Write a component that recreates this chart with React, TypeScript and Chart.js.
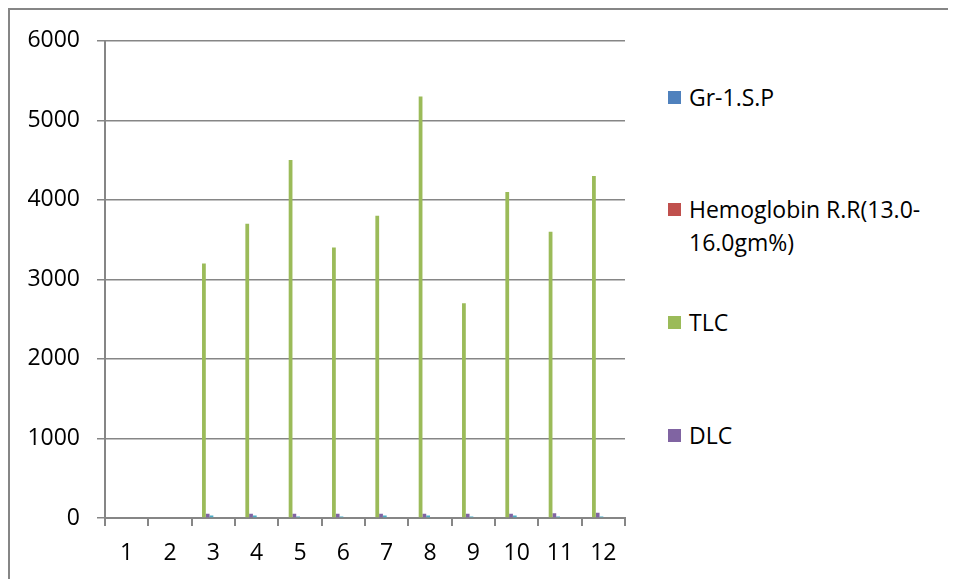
import React, { useEffect, useRef } from "react";
import { Chart, registerables } from "chart.js";

Chart.register(...registerables);

// ---- data ----
const categories = ["1", "2", "3", "4", "5", "6", "7", "8", "9", "10", "11", "12"];
const seriesNames = [
  "Gr-1.S.P",
  "Hemoglobin R.R(13.0-16.0gm%)",
  "TLC",
  "DLC",
  "Series 5",
  "Series 6",
  "Series 7",
  "Series 8",
  "Series 9",
  "Series 10",
];
const grSP = [0, 0, 0, 0, 0, 0, 0, 0, 0, 0, 0, 0];
const hemoglobin = [0, 0, 0, 0, 0, 0, 0, 0, 0, 0, 0, 0];
const tlc = [0, 0, 3200, 3700, 4500, 3400, 3800, 5300, 2700, 4100, 3600, 4300];
const dlc = [0, 0, 52, 52, 55, 52, 52, 52, 55, 52, 60, 66];
const series5 = [0, 0, 30, 30, 18, 18, 30, 30, 18, 30, 18, 18];
const series6 = [0, 0, 0, 0, 0, 0, 0, 0, 0, 0, 0, 0];
const series7 = [0, 0, 0, 0, 0, 0, 0, 0, 0, 0, 0, 0];
const series8 = [0, 0, 0, 0, 0, 0, 0, 0, 0, 0, 0, 0];
const series9 = [0, 0, 0, 0, 0, 0, 0, 0, 0, 0, 0, 0];
const series10 = [0, 0, 0, 0, 0, 0, 0, 0, 0, 0, 0, 0];
const yMin = 0;
const yMax = 6000;
const yStep = 1000;
const legendCount = 4;

// ---- styles ----
const seriesColors = [
  "#4F81BD",
  "#C0504D",
  "#9BBB59",
  "#8064A2",
  "#4BACC6",
  "#F79646",
  "#2C4D75",
  "#772C2A",
  "#5F7530",
  "#4D3B62",
];
const FONT = "'Open Sans', 'Noto Sans', sans-serif";
const AXIS_GRAY = "#868686";

export default function App() {
  const canvasRef = useRef<HTMLCanvasElement | null>(null);

  useEffect(() => {
    const values = [grSP, hemoglobin, tlc, dlc, series5, series6, series7, series8, series9, series10];
    const chart = new Chart(canvasRef.current as HTMLCanvasElement, {
      type: "bar",
      data: {
        labels: categories,
        datasets: values.map((v, i) => ({
          label: seriesNames[i],
          data: v,
          backgroundColor: seriesColors[i],
          borderWidth: 0,
          categoryPercentage: 10 / 11.5,
          barPercentage: 1,
        })),
      },
      options: {
        animation: false,
        responsive: false,
        devicePixelRatio: 1,
        layout: { padding: { top: 30, right: 25, left: 0, bottom: 0 } },
        plugins: { legend: { display: false }, tooltip: { enabled: false } },
        scales: {
          x: {
            grid: {
              display: true,
              drawOnChartArea: false,
              drawTicks: true,
              tickLength: 8,
              offset: true,
              color: AXIS_GRAY,
              lineWidth: 2,
            },
            border: { display: true, color: AXIS_GRAY, width: 2 },
            ticks: {
              color: "#000",
              font: { family: FONT, size: 23 },
              padding: 14,
              maxRotation: 0,
              autoSkip: false,
            },
            afterFit: (s: any) => {
              s.height = 61;
            },
          },
          y: {
            min: yMin,
            max: yMax,
            ticks: {
              stepSize: yStep,
              padding: 17,
              color: "#000",
              font: { family: FONT, size: 23 },
              callback: (v: any) => String(v),
            },
            grid: { color: AXIS_GRAY, lineWidth: 1.5, tickLength: 8, drawTicks: true },
            border: { display: true, color: AXIS_GRAY, width: 2 },
            afterFit: (s: any) => {
              s.width = 95;
            },
          },
        },
      },
    });
    return () => chart.destroy();
  }, []);

  return (
    <div
      style={{
        position: "relative",
        width: 946,
        height: 569,
        borderTop: `2px solid ${AXIS_GRAY}`,
        borderLeft: `2px solid ${AXIS_GRAY}`,
        background: "#fff",
      }}
    >
      <canvas ref={canvasRef} width={640} height={569} style={{ position: "absolute", left: 0, top: 0 }} />
      <div style={{ position: "absolute", left: 658, top: 70.5 }}>
        {seriesNames.slice(0, legendCount).map((name, i) => (
          <div key={name} style={{ display: "flex", alignItems: "flex-start", height: 112.7 }}>
            <div
              style={{
                width: 13,
                height: 13,
                marginTop: 10,
                marginRight: 8,
                background: seriesColors[i],
                flex: "none",
              }}
            />
            <div
              style={{
                fontFamily: FONT,
                fontSize: 23,
                lineHeight: "33px",
                color: "#000",
                whiteSpace: "pre-line",
              }}
            >
              {name.replace("13.0-", "13.0-\n")}
            </div>
          </div>
        ))}
      </div>
    </div>
  );
}
